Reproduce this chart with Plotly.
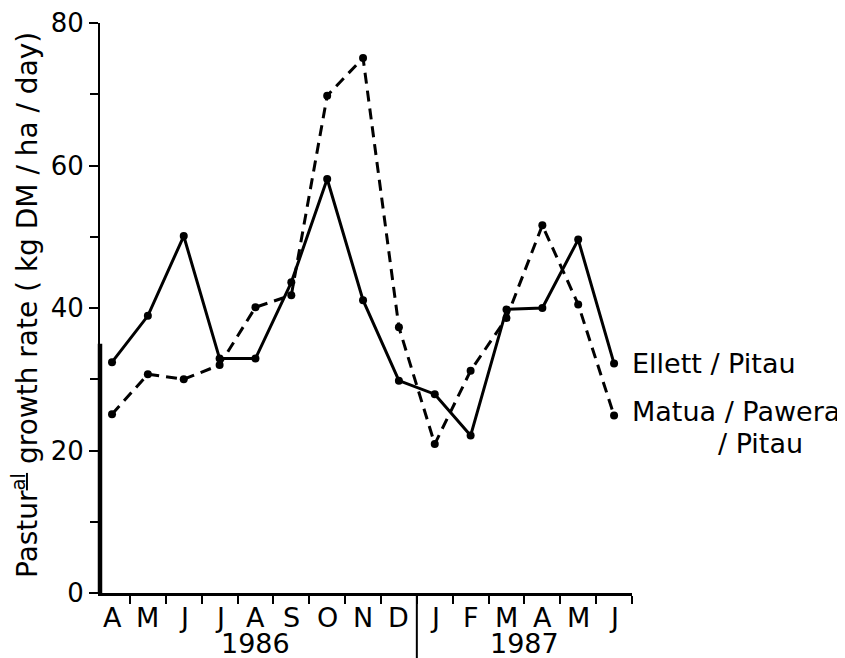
import plotly.graph_objects as go

months = ["A", "M", "J", "J", "A", "S", "O", "N", "D", "J", "F", "M", "A", "M", "J"]
years = ["1986", "1987"]
ellett = [32.4, 38.9, 50.1, 32.9, 32.9, 43.6, 58.1, 41.1, 29.8, 27.9, 22.1, 39.8, 40.0, 49.6, 32.2]
matua = [25.1, 30.7, 30.0, 32.0, 40.1, 41.8, 69.8, 75.1, 37.3, 20.9, 31.2, 38.6, 51.6, 40.5, 24.9]
y_ticks = [0, 20, 40, 60, 80]

xc = [i + 0.5 for i in range(len(months))]
FONT = "DejaVu Sans"

fig = go.Figure()
fig.add_trace(go.Scatter(x=xc, y=ellett, mode="lines+markers", name="Ellett / Pitau",
                         line=dict(color="black", width=3),
                         marker=dict(color="black", size=8)))
fig.add_trace(go.Scatter(x=xc, y=matua, mode="lines+markers", name="Matua / Pawera / Pitau",
                         line=dict(color="black", width=3, dash="11px,7px"),
                         marker=dict(color="black", size=8)))

fig.update_layout(
    width=845, height=658,
    margin=dict(l=92, r=221, t=15, b=73),
    plot_bgcolor="white", paper_bgcolor="white",
    showlegend=False,
    font=dict(family=FONT, color="black"),
)
fig.update_xaxes(range=[0.165, 15], showgrid=False, zeroline=False, automargin=False,
                 showline=True, linecolor="black", linewidth=2.5,
                 tickvals=xc, showticklabels=False, ticks="",
                 minor=dict(tickvals=list(range(1, 16)), ticks="outside", ticklen=8,
                            tickwidth=2, tickcolor="black", showgrid=False))
fig.update_yaxes(range=[0, 80], showgrid=False, zeroline=False, automargin=False,
                 showline=True, linecolor="black", linewidth=2,
                 tickvals=y_ticks, ticks="outside", ticklen=9, tickwidth=2,
                 tickcolor="black", tickfont=dict(size=26, family=FONT),
                 minor=dict(tickvals=[10, 30, 50, 70], ticks="outside", ticklen=8,
                            tickwidth=2, tickcolor="black", showgrid=False))

# thicker lower part of the y axis
fig.add_shape(type="line", xref="paper", yref="y", x0=0, x1=0, y0=0, y1=35,
              line=dict(color="black", width=4.5))
# year separator
fig.add_shape(type="line", xref="x", yref="paper", x0=9, x1=9, y0=0, y1=-0.13,
              line=dict(color="black", width=2))

# month labels
for xm, m in zip(xc, months):
    fig.add_annotation(x=xm, xref="x", y=0, yref="paper", yshift=-24, text=m,
                       showarrow=False, font=dict(size=27, family=FONT), yanchor="middle")

# year labels
fig.add_annotation(x=4.5, xref="x", y=0, yref="paper", yshift=-50, text=years[0],
                   showarrow=False, font=dict(size=27, family=FONT), yanchor="middle")
fig.add_annotation(x=12, xref="x", y=0, yref="paper", yshift=-50, text=years[1],
                   showarrow=False, font=dict(size=27, family=FONT), yanchor="middle")

# y axis title
fig.add_annotation(x=0, xref="paper", xshift=-75, y=0.5, yref="paper", yshift=3,
                   text="Pastur<sup><u>al</u></sup> growth rate ( kg DM / ha / day)",
                   textangle=-90, showarrow=False, font=dict(size=28, family=FONT),
                   xanchor="center", yanchor="middle")

# series labels
fig.add_annotation(x=1, xref="paper", xshift=-2, y=ellett[-1], yref="y", text="Ellett / Pitau",
                   showarrow=False, xanchor="left", yanchor="middle", font=dict(size=27, family=FONT))
fig.add_annotation(x=1, xref="paper", xshift=-2, y=matua[-1], yref="y", yshift=4, text="Matua / Pawera",
                   showarrow=False, xanchor="left", yanchor="middle", font=dict(size=27, family=FONT))
fig.add_annotation(x=1, xref="paper", xshift=84, y=matua[-1], yref="y", yshift=-28, text="/ Pitau",
                   showarrow=False, xanchor="left", yanchor="middle", font=dict(size=27, family=FONT))

fig.write_html("out.html")
